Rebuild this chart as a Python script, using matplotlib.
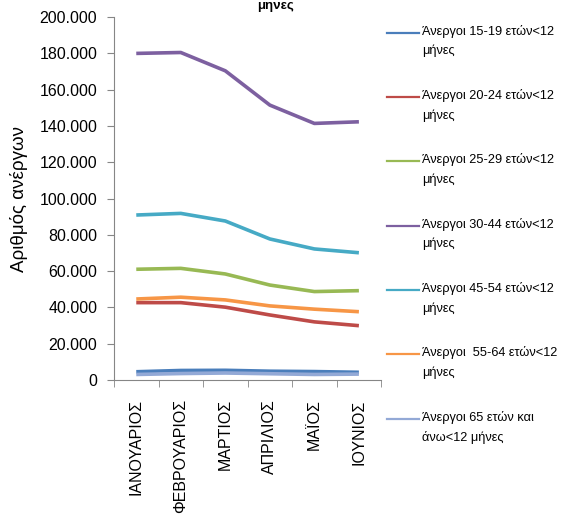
import numpy as np
import matplotlib
matplotlib.use("Agg")
import matplotlib.pyplot as plt
from matplotlib.lines import Line2D
from matplotlib.ticker import FuncFormatter

months = ["ΙΑΝΟΥΑΡΙΟΣ", "ΦΕΒΡΟΥΑΡΙΟΣ", "ΜΑΡΤΙΟΣ", "ΑΠΡΙΛΙΟΣ", "ΜΑΪΟΣ", "ΙΟΥΝΙΟΣ"]

age_15_19 = [4500, 5200, 5300, 4800, 4600, 4200]
age_20_24 = [42600, 42600, 40100, 35800, 32000, 29900]
age_25_29 = [61000, 61500, 58400, 52300, 48700, 49200]
age_30_44 = [180000, 180500, 170400, 151500, 141400, 142300]
age_45_54 = [90900, 91800, 87600, 77700, 72200, 70100]
age_55_64 = [44600, 45600, 44100, 40800, 39000, 37600]
age_65_up = [3000, 3500, 3800, 3400, 3000, 3200]

labels = [
    "Άνεργοι 15-19 ετών<12\nμήνες",
    "Άνεργοι 20-24 ετών<12\nμήνες",
    "Άνεργοι 25-29 ετών<12\nμήνες",
    "Άνεργοι 30-44 ετών<12\nμήνες",
    "Άνεργοι 45-54 ετών<12\nμήνες",
    "Άνεργοι  55-64 ετών<12\nμήνες",
    "Άνεργοι 65 ετών και\nάνω<12 μήνες",
]
colors = ["#4A7EBB", "#BE4B48", "#98B954", "#7D60A0", "#46AAC5", "#F79646", "#93A9D6"]
series = [age_15_19, age_20_24, age_25_29, age_30_44, age_45_54, age_55_64, age_65_up]

label_font = ["Liberation Sans Narrow", "Liberation Sans", "DejaVu Sans"]
plt.rcParams["font.family"] = ["Liberation Sans", "DejaVu Sans"]

fig = plt.figure(figsize=(5.63, 5.19), dpi=100)
ax = fig.add_axes([0.2025, 0.268, 0.4745, 0.699])

x = np.arange(len(months))
for vals, col in zip(series, colors):
    ax.plot(x, vals, color=col, lw=2.6, solid_capstyle="butt")

ax.set_xlim(-0.5, len(months) - 0.5)
ax.set_ylim(0, 200000)
ax.set_yticks(np.arange(0, 200001, 20000))
ax.yaxis.set_major_formatter(FuncFormatter(
    lambda v, p: "0" if v == 0 else f"{int(v):,}".replace(",", ".")))
ax.set_xticks(x)
ax.set_xticklabels(months, rotation=90, fontsize=11.5)
ax.set_xticks(np.arange(-0.5, len(months)), minor=True)
ax.tick_params(axis="x", which="major", length=0, pad=14)
ax.tick_params(axis="x", which="minor", length=5, color="#868686")
ax.tick_params(axis="y", length=5, color="#868686", labelsize=11.5, pad=7)

for s in ["top", "right"]:
    ax.spines[s].set_visible(False)
for s in ["left", "bottom"]:
    ax.spines[s].set_color("#868686")

ax.set_ylabel("Αριθμός ανέργων", fontsize=13.5, family=label_font, labelpad=8)

fig.text(276 / 563, 1 - 9 / 519, "μηνες", ha="center", va="baseline",
         fontsize=9.5, fontweight="bold", family=label_font)

# legend, key aligned with first line of each entry
leg_top = 1 - 32.7 / 519
leg_step = 64.3 / 519
for i, (lab, col) in enumerate(zip(labels, colors)):
    yy = leg_top - i * leg_step
    fig.add_artist(Line2D([387 / 563, 419 / 563], [yy, yy], color=col, lw=1.6,
                          transform=fig.transFigure))
    fig.text(422 / 563, yy + 8 / 519, lab, ha="left", va="top", fontsize=9.2,
             family=label_font, linespacing=1.75)

plt.savefig("out.png", dpi=100)
